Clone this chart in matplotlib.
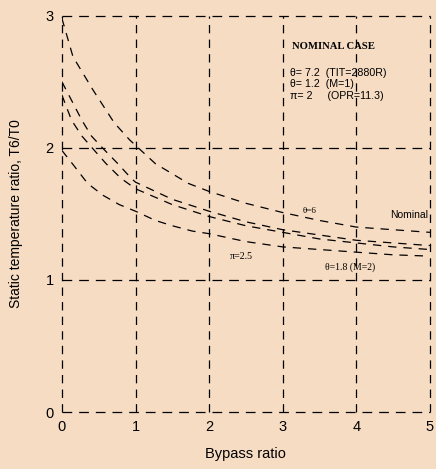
import matplotlib
matplotlib.use("Agg")
import matplotlib.pyplot as plt

# curves (bypass ratio, T6/T0)
x_top = [0, 0.15, 0.42, 0.71, 0.92, 1.27, 1.72, 2.0, 2.5, 3.0, 3.5, 4.0, 4.5, 5.0]
y_top = [2.98, 2.69, 2.44, 2.19, 2.06, 1.88, 1.73, 1.67, 1.58, 1.51, 1.45, 1.40, 1.38, 1.36]

x_mu = [0, 0.27, 0.40, 0.55, 0.76, 0.94, 1.0, 1.5, 2.0, 2.5, 3.0, 3.5, 4.0, 4.5, 5.0]
y_mu = [2.50, 2.21, 2.09, 2.00, 1.88, 1.77, 1.74, 1.61, 1.52, 1.44, 1.38, 1.34, 1.30, 1.28, 1.26]

x_ml = [0, 0.13, 0.27, 0.41, 0.60, 0.80, 1.0, 1.5, 2.0, 2.5, 3.0, 3.5, 4.0, 4.5, 5.0]
y_ml = [2.40, 2.21, 2.09, 2.00, 1.88, 1.77, 1.69, 1.57, 1.48, 1.41, 1.36, 1.31, 1.28, 1.25, 1.23]

x_bot = [0, 0.17, 0.35, 0.56, 0.78, 1.0, 1.27, 1.5, 1.77, 2.0, 2.5, 3.0, 3.5, 4.0, 4.5, 5.0]
y_bot = [1.98, 1.86, 1.73, 1.64, 1.57, 1.52, 1.45, 1.41, 1.37, 1.35, 1.29, 1.25, 1.23, 1.21, 1.19, 1.18]

xticks = [0, 1, 2, 3, 4, 5]
yticks = [0, 1, 2, 3]

plt.rcParams['font.family'] = ['Liberation Sans', 'DejaVu Sans']
plt.rcParams['lines.scale_dashes'] = False

bg = '#f6dcc3'
fig = plt.figure(figsize=(4.36, 4.69), dpi=100, facecolor=bg)
ax = fig.add_axes([0.142, 0.1215, 0.844, 0.845])
ax.set_facecolor(bg)
ax.set_xlim(0, 5)
ax.set_ylim(0, 3)

# dashed grid doubles as the frame
for xv in xticks:
    ax.axvline(xv, color='k', lw=0.9, ls=(0, (6, 4.5)), clip_on=False)
for yv in yticks:
    ax.axhline(yv, color='k', lw=0.9, ls=(0, (7, 5)), clip_on=False)

for xs, ys in [(x_top, y_top), (x_mu, y_mu), (x_ml, y_ml), (x_bot, y_bot)]:
    ax.plot(xs, ys, color='k', lw=0.9, ls=(0, (6, 5)))

for s in ax.spines.values():
    s.set_visible(False)
ax.set_xticks(xticks)
ax.set_yticks(yticks)
ax.tick_params(length=0, labelsize=10.5, pad=6)
ax.set_xlabel('Bypass ratio', fontsize=10.5, labelpad=9)
ax.set_ylabel('Static temperature ratio, T6/T0', fontsize=10, labelpad=16)

serif = ['Liberation Serif', 'DejaVu Serif']
ax.text(3.12, 2.77, 'NOMINAL CASE', family=serif, weight='bold', fontsize=7.7, va='center')
ax.text(3.10, 2.57, 'θ= 7.2  (TIT=2880R)', fontsize=7.7, va='center')
ax.text(3.10, 2.48, 'θ= 1.2  (M=1)', fontsize=7.7, va='center')
ax.text(3.10, 2.39, 'π= 2     (OPR=11.3)', fontsize=7.7, va='center')

ax.text(3.27, 1.52, 'θ=6', family=serif, fontsize=6.5, va='center')
ax.text(4.46, 1.49, 'Nominal', fontsize=7.5, va='center')
ax.text(2.28, 1.18, 'π=2.5', family=serif, fontsize=7.2, va='center')
ax.text(3.57, 1.10, 'θ=1.8 (M=2)', family=serif, fontsize=7, va='center')

fig.savefig('out.png', dpi=100, facecolor=bg)
